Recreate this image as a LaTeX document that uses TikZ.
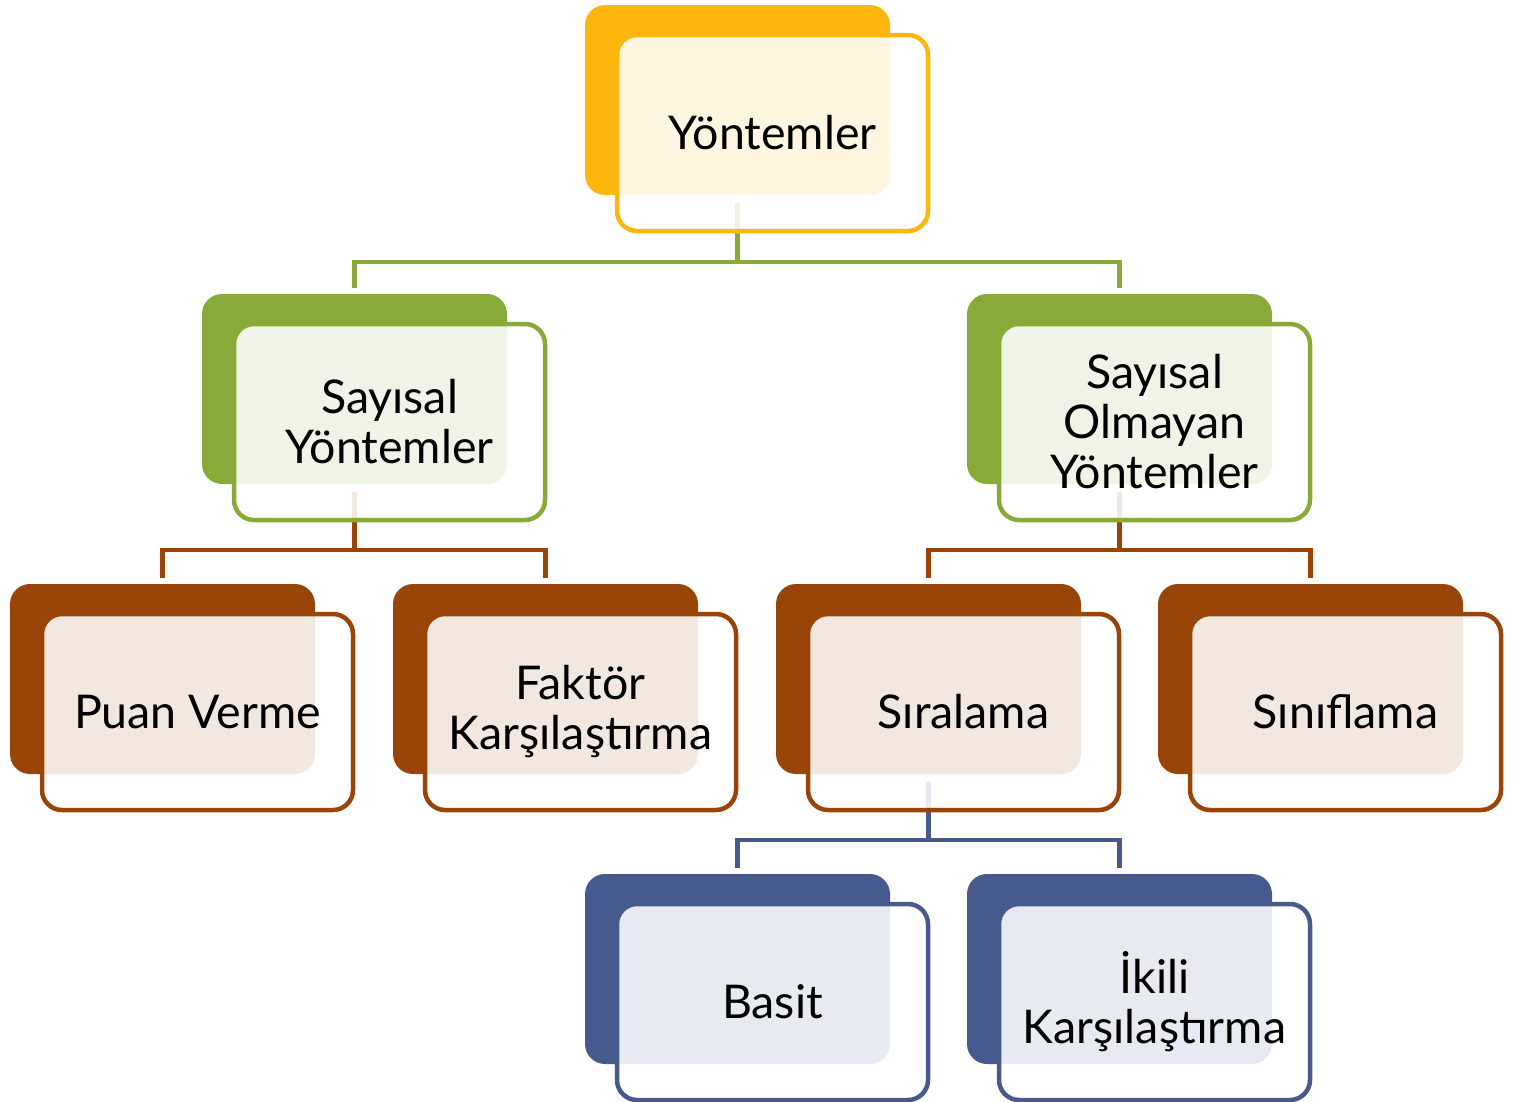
\documentclass[tikz,border=0pt]{standalone}
\usepackage{fontspec}
\setmainfont{Lato}
\usetikzlibrary{calc}

\definecolor{cgold}{RGB}{255,183,16}
\definecolor{cgreen}{RGB}{135,170,57}
\definecolor{cbrown}{RGB}{153,68,8}
\definecolor{cblue}{RGB}{71,90,141}

\tikzset{
  backbox/.style={rectangle, rounded corners=20pt, fill=#1, draw=none,
    minimum width=305pt, minimum height=190pt, inner sep=0pt, outer sep=0pt,
    anchor=north west},
  frontbox/.style={rectangle, rounded corners=20pt, draw=#1, line width=4.5pt,
    fill=white, fill opacity=0.88, draw opacity=1,
    minimum width=311pt, minimum height=196pt, inner sep=0pt, outer sep=0pt,
    anchor=north west},
  boxtext/.style={text=black, align=center, inner sep=0pt,
    font=\fontsize{46.5}{50}\selectfont},
  link/.style={draw=#1, line width=4.5pt},
}

\begin{document}
\begin{tikzpicture}[x=1pt, y=-1pt]
\clip (0,0) rectangle (1516,1101);

% solid back plates
\node[backbox=cgold]  (b0) at (585,5) {};
\node[backbox=cgreen] (b1) at (202,294) {};
\node[backbox=cgreen] (b2) at (967,294) {};
\node[backbox=cbrown] (b3) at (10,584) {};
\node[backbox=cbrown] (b4) at (393,584) {};
\node[backbox=cbrown] (b5) at (776,584) {};
\node[backbox=cbrown] (b6) at (1158,584) {};
\node[backbox=cblue]  (b7) at (585,874) {};
\node[backbox=cblue]  (b8) at (967,874) {};

% fork levels
\coordinate (k0) at (0,262);
\coordinate (k1) at (0,550);
\coordinate (k2) at (0,550);
\coordinate (k5) at (0,840);

% connectors
\draw[link=cgreen] ([yshift=-8pt]b0.south) -- (b0.south |- k0);
\draw[link=cgreen] ([yshift=6pt]b1.north) |- (b0.south |- k0) -| ([yshift=6pt]b2.north);

\draw[link=cbrown] ([yshift=-8pt]b1.south) -- (b1.south |- k1);
\draw[link=cbrown] ([yshift=6pt]b3.north) |- (b1.south |- k1) -| ([yshift=6pt]b4.north);

\draw[link=cbrown] ([yshift=-8pt]b2.south) -- (b2.south |- k2);
\draw[link=cbrown] ([yshift=6pt]b5.north) |- (b2.south |- k2) -| ([yshift=6pt]b6.north);

\draw[link=cblue] ([yshift=-8pt]b5.south) -- (b5.south |- k5);
\draw[link=cblue] ([yshift=6pt]b7.north) |- (b5.south |- k5) -| ([yshift=6pt]b8.north);

% translucent framed front cards
\node[frontbox=cgold]  (f0) at ([shift={(32,30)}]b0.north west) {};
\node[frontbox=cgreen] (f1) at ([shift={(32,30)}]b1.north west) {};
\node[frontbox=cgreen] (f2) at ([shift={(32,30)}]b2.north west) {};
\node[frontbox=cbrown] (f3) at ([shift={(32,30)}]b3.north west) {};
\node[frontbox=cbrown] (f4) at ([shift={(32,30)}]b4.north west) {};
\node[frontbox=cbrown] (f5) at ([shift={(32,30)}]b5.north west) {};
\node[frontbox=cbrown] (f6) at ([shift={(32,30)}]b6.north west) {};
\node[frontbox=cblue]  (f7) at ([shift={(32,30)}]b7.north west) {};
\node[frontbox=cblue]  (f8) at ([shift={(32,30)}]b8.north west) {};

% labels
\node[boxtext] (t0) at (f0.center) {Yöntemler};
\node[boxtext] (t1) at (f1.center) {Sayısal\\Yöntemler};
\node[boxtext] (t2) at (f2.center) {Sayısal\\Olmayan\\Yöntemler};
\node[boxtext] (t3) at (f3.center) {Puan Verme};
\node[boxtext] (t4) at (f4.center) {Faktör\\Karşılaştırma};
\node[boxtext] (t5) at (f5.center) {Sıralama};
\node[boxtext] (t6) at (f6.center) {Sınıflama};
\node[boxtext] (t7) at (f7.center) {Basit};
\node[boxtext] (t8) at (f8.center) {İkili\\Karşılaştırma};
\end{tikzpicture}
\end{document}
